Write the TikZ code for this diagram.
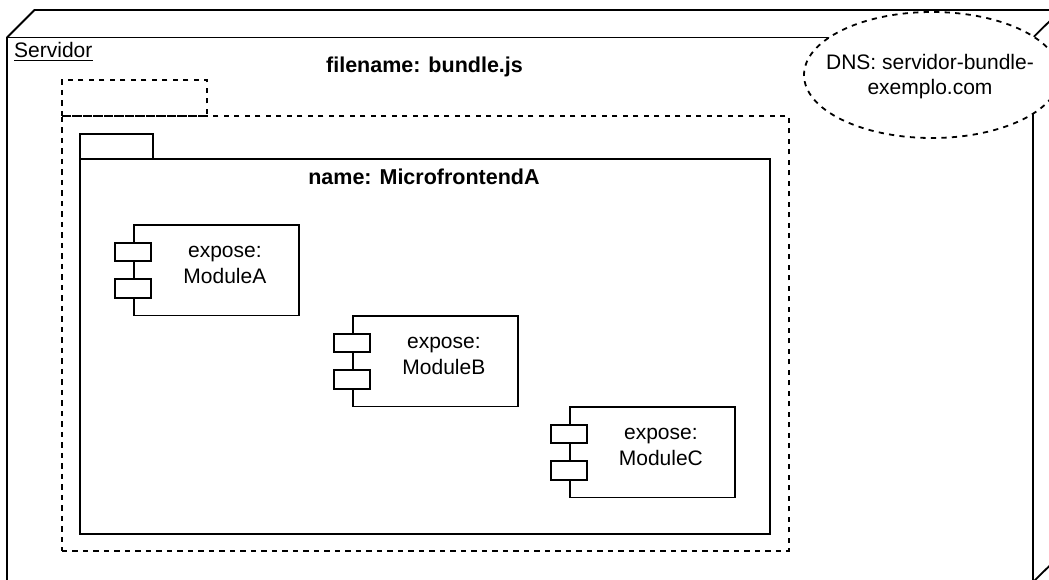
\documentclass[tikz,border=0pt]{standalone}
\usepackage{fontspec}
\setmainfont{Liberation Sans}
\usetikzlibrary{shapes.geometric}

\tikzset{
  edge/.style={line width=1.8pt, line join=miter},
  dashline/.style={line width=1.8pt, dash pattern=on 5.25pt off 5.25pt},
  lbl/.style={inner sep=0pt, align=center, font=\fontsize{21}{26}\selectfont},
  boldlbl/.style={inner sep=0pt, font=\bfseries\fontsize{21.5}{26}\selectfont},
  compbody/.style={draw, line width=1.8pt, fill=white, inner sep=0pt,
                   minimum width=165pt, minimum height=90.5pt},
  port/.style={draw, line width=1.8pt, fill=white, inner sep=0pt,
               minimum width=36pt, minimum height=18.5pt},
}

\begin{document}
\begin{tikzpicture}[x=1pt, y=-1pt]
\useasboundingbox (0,0) rectangle (1049,579);
\clip (0,0) rectangle (1049,579);

% ---- deployment node "Servidor" (3D box) ----
\coordinate (ftl) at (7,37.5);
\coordinate (ftr) at (1033,37.5);
\coordinate (fbr) at (1033,582);
\coordinate (btl) at (34.5,10);
\coordinate (btr) at (1061,10);
\coordinate (bbr) at (1061,554.5);
\draw[edge] (ftl) rectangle (fbr);
\draw[edge] (ftl) -- (btl) -- (btr) -- (bbr) -- (fbr);
\draw[edge] (ftr) -- (btr);

\node[lbl, anchor=base west] (srv) at (14,57) {Servidor};
\draw[line width=1.2pt] ([yshift=-3.5pt]srv.base west) -- ([yshift=-3.5pt]srv.base east);

% ---- artifact package (dashed) ----
\node[draw, dashline, inner sep=0pt, minimum width=145pt, minimum height=36pt,
      anchor=north west] (bundletab) at (61,79) {};
\node[draw, dashline, inner sep=0pt, minimum width=727pt, minimum height=435pt,
      anchor=north west] (bundle) at (61,115) {};
\node[boldlbl, anchor=base] (bundlename) at (424.5,72) {filename: bundle.js};

% ---- microfrontend package (solid) ----
\node[draw, edge, inner sep=0pt, minimum width=73pt, minimum height=25pt,
      anchor=north west] (mfetab) at (79,133) {};
\node[draw, edge, inner sep=0pt, minimum width=690pt, minimum height=375pt,
      anchor=north west] (mfe) at (79,158) {};
\node[boldlbl, anchor=base] (mfename) at (424,184) {name: MicrofrontendA};

% ---- exposed modules (components) ----
\node[compbody, anchor=north west] (modA) at (133,224) {};
\node[port] (modA-p1) at ([yshift=18.25pt]modA.west) {};
\node[port] (modA-p2) at ([yshift=-18.25pt]modA.west) {};
\node[lbl] (modA-txt) at ([xshift=8.5pt, yshift=5.5pt]modA.center) {expose:\\ModuleA};

\node[compbody, anchor=north west] (modB) at (352,315) {};
\node[port] (modB-p1) at ([yshift=18.25pt]modB.west) {};
\node[port] (modB-p2) at ([yshift=-18.25pt]modB.west) {};
\node[lbl] (modB-txt) at ([xshift=8.5pt, yshift=5.5pt]modB.center) {expose:\\ModuleB};

\node[compbody, anchor=north west] (modC) at (569,406) {};
\node[port] (modC-p1) at ([yshift=18.25pt]modC.west) {};
\node[port] (modC-p2) at ([yshift=-18.25pt]modC.west) {};
\node[lbl] (modC-txt) at ([xshift=8.5pt, yshift=5.5pt]modC.center) {expose:\\ModuleC};

% ---- DNS note (dashed ellipse) ----
\node[ellipse, draw, dashline, fill=white, inner sep=0pt,
      minimum width=256pt, minimum height=126pt] (dns) at (932,75) {};
\node[lbl, font=\fontsize{21}{25}\selectfont] (dns-txt) at (930,77) {DNS: servidor-bundle-\\exemplo.com};
\end{tikzpicture}
\end{document}
